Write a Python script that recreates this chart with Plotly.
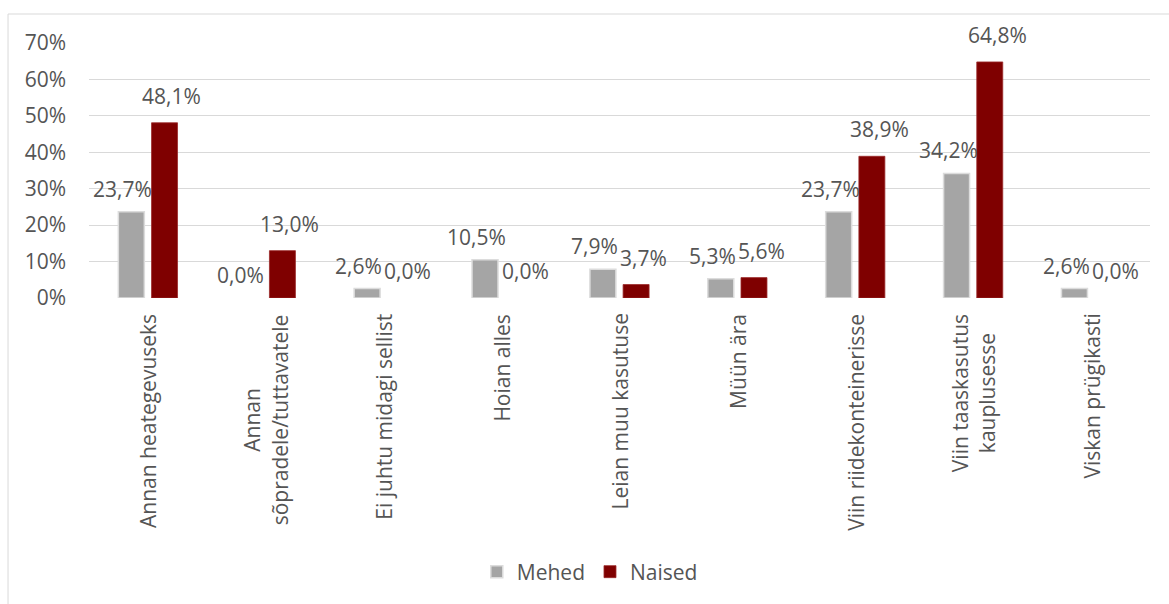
import plotly.graph_objects as go

# Survey answers: what respondents do with clothes they no longer need
categories = [
    "Annan heategevuseks",
    "Annan sõpradele/tuttavatele",
    "Ei juhtu midagi sellist",
    "Hoian alles",
    "Leian muu kasutuse",
    "Müün ära",
    "Viin riidekonteinerisse",
    "Viin taaskasutus kauplusesse",
    "Viskan prügikasti",
]
category_labels = [
    "Annan heategevuseks",
    "Annan<br>sõpradele/tuttavatele",
    "Ei juhtu midagi sellist",
    "Hoian alles",
    "Leian muu kasutuse",
    "Müün ära",
    "Viin riidekonteinerisse",
    "Viin taaskasutus<br>kauplusesse",
    "Viskan prügikasti",
]
mehed = [23.7, 0.0, 2.6, 10.5, 7.9, 5.3, 23.7, 34.2, 2.6]
naised = [48.1, 13.0, 0.0, 0.0, 3.7, 5.6, 38.9, 64.8, 0.0]
y_ticks = [0, 10, 20, 30, 40, 50, 60, 70]

FONT = "Open Sans"
TEXT = "#555555"
GRAY = "#a5a5a5"
RED = "#7f0000"
SIZE = 21


def pct(v):
    return f"{v:.1f}".replace(".", ",") + "%"


def outline(values, w):
    # no outline on empty bars so they stay invisible
    return [w if v > 0 else 0 for v in values]


fig = go.Figure()
fig.add_trace(go.Bar(
    name="Mehed", x=categories, y=mehed,
    marker=dict(color=GRAY, line=dict(color="#dcdcdc", width=outline(mehed, 1.5))),
))
fig.add_trace(go.Bar(
    name="Naised", x=categories, y=naised,
    marker=dict(color=RED, line=dict(color="#9a2a2a", width=outline(naised, 0.8))),
))

annotations = []
# value labels above each bar
for series, dx, dy in ((mehed, -25, 7), (naised, 24, 11)):
    for c, v in zip(categories, series):
        annotations.append(dict(
            x=c, y=v, xref="x", yref="y", text=pct(v), showarrow=False,
            xanchor="center", yanchor="bottom", xshift=dx, yshift=dy,
            font=dict(family=FONT, size=SIZE, color=TEXT),
        ))
# rotated category labels under the axis
for c, lab in zip(categories, category_labels):
    annotations.append(dict(
        x=c, y=0, xref="x", yref="paper", text=lab, showarrow=False,
        textangle=-90, align="center", xanchor="center", yanchor="top",
        yshift=-14, font=dict(family=FONT, size=SIZE, color=TEXT),
    ))

fig.update_layout(
    width=1169, height=604,
    margin=dict(l=89, r=19, t=43, b=306),
    paper_bgcolor="white", plot_bgcolor="white",
    barmode="group", bargap=0.437, bargroupgap=0.217,
    font=dict(family=FONT, size=SIZE, color=TEXT),
    xaxis=dict(showticklabels=False, showgrid=False, zeroline=False,
               showline=False, ticks=""),
    yaxis=dict(range=[0, 70], tickmode="array", tickvals=y_ticks,
               ticktext=[f"{t}%" for t in y_ticks],
               showgrid=True, gridcolor="#d9d9d9", gridwidth=1,
               zeroline=False, showline=False, ticks="",
               ticklabelstandoff=22,
               tickfont=dict(family=FONT, size=SIZE, color=TEXT)),
    legend=dict(orientation="h", x=0.472, xanchor="center", y=-1.0745,
                yanchor="middle", font=dict(family=FONT, size=SIZE, color=TEXT),
                itemwidth=30, tracegroupgap=0),
    annotations=annotations,
    shapes=[dict(type="rect", xref="paper", yref="paper",
                 x0=-0.0763, x1=1.05, y0=-1.3, y1=1.1137,
                 line=dict(color="#d9d9d9", width=1), layer="below")],
)

fig.write_html("out.html")
